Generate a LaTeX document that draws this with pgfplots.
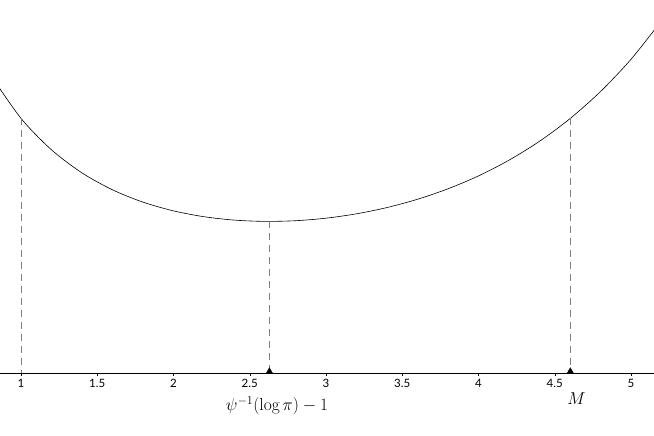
\documentclass[border=0pt]{standalone}
\usepackage{fontspec}
\newfontfamily\tickfont{Lato}
\usepackage{pgfplots}
\pgfplotsset{compat=1.18}

\begin{document}
\begin{tikzpicture}
\begin{axis}[
  name=ax,
  scale only axis,
  width=654pt, height=436pt,
  xmin=0.8623, xmax=5.1508,
  ymin=-0.07875, ymax=0.46625,
  axis x line=middle,
  axis y line=none,
  x axis line style={-, line width=0.6pt},
  xtick={1,1.5,2,2.5,3,3.5,4,4.5,5},
  tick align=outside,
  major tick length=3pt,
  tick style={black, line width=0.5pt},
  /pgf/number format/assume math mode=true,
  xticklabel style={font=\tickfont\fontsize{11.5}{13}\selectfont},
]
% the curve, Gamma(x+1)/pi^x read off at steps of 0.2
\addplot [black, line width=0.6pt, smooth] coordinates {
(0.8,0.37275) (1.0,0.31831) (1.2,0.27895) (1.4,0.25014) (1.6,0.22898)
(1.8,0.21357) (2.0,0.20264) (2.2,0.19534) (2.4,0.19109) (2.6,0.18951)
(2.8,0.19035) (3.0,0.19351) (3.2,0.19898) (3.4,0.20681) (3.6,0.21716)
(3.8,0.23025) (4.0,0.24638) (4.2,0.26602) (4.4,0.28965) (4.6,0.31797)
(4.8,0.35180) (5.0,0.39213) (5.2,0.44030)
};
% dashed drop lines
\addplot [gray, line width=0.6pt, dash pattern=on 7pt off 5pt] coordinates {(1,0.31831) (1,0)};
\addplot [gray, line width=0.6pt, dash pattern=on 7pt off 5pt] coordinates {(2.629,0.18946) (2.629,0)};
\addplot [gray, line width=0.6pt, dash pattern=on 7pt off 5pt] coordinates {(4.602,0.31831) (4.602,0)};
% markers on the axis
\addplot [only marks, mark=triangle*, mark size=3.5pt, black,
  mark options={yshift=1.75pt}] coordinates {(2.629,0) (4.602,0)};
\node [anchor=base, inner sep=0pt, font=\fontsize{17.5}{20}\selectfont]
  at (axis cs:2.679,-0.0475) {$\psi^{-1}(\log\pi)-1$};
\node [anchor=base, inner sep=0pt, font=\fontsize{17.5}{20}\selectfont]
  at (axis cs:4.643,-0.04) {$M$};
\end{axis}
\pgfresetboundingbox
\path [use as bounding box] (ax.south west) rectangle (ax.north east);
\end{tikzpicture}
\end{document}
